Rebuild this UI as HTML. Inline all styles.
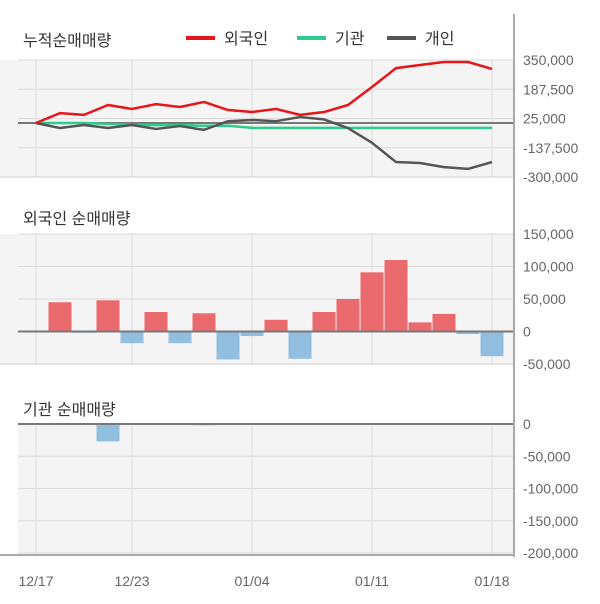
<!DOCTYPE html>
<html><head><meta charset="utf-8"><style>
html,body{margin:0;padding:0;background:#fff;width:600px;height:604px;overflow:hidden}
text{font-family:"Liberation Sans","Noto Sans CJK KR",sans-serif}
</style></head><body>
<svg id="chart" width="600" height="604" xmlns="http://www.w3.org/2000/svg"></svg>
<script>
const dates = ['12/17','12/18','12/19','12/20','12/21','12/23','12/24','12/26','12/27','12/28','01/04','01/07','01/08','01/09','01/10','01/11','01/14','01/15','01/16','01/18'];
const xLabels = ['12/17','12/23','01/04','01/11','01/18'];
const xLabelIdx = [0,4,9,14,19];
const cumForeign = [0,55000,45000,100000,78000,105000,89000,117000,72000,61000,78000,45000,61000,100000,200000,305000,322000,339000,339000,300000];
const cumInst = [0,0,0,-5000,-10000,-12000,-12000,-15000,-15000,-27000,-27000,-27000,-27000,-27000,-27000,-27000,-27000,-27000,-27000,-27000];
const cumIndiv = [0,-28000,-11000,-28000,-11000,-33000,-17000,-38000,10000,17000,10000,33000,20000,-28000,-110000,-217000,-222000,-245000,-255000,-217000];
const foreignNet = [0,45000,-2000,48000,-18000,30000,-18000,28000,-43000,-7000,18000,-42000,30000,50000,91000,110000,14000,27000,-4000,-38000];
const instNet = [0,0,0,-27000,0,0,0,-2000,0,0,0,0,0,0,0,0,0,0,0,0];
const ticks1 = [350000,187500,25000,-137500,-300000];
const ticks2 = [150000,100000,50000,0,-50000];
const ticks3 = [0,-50000,-100000,-150000,-200000];

const svg = document.getElementById('chart');
const NS = 'http://www.w3.org/2000/svg';
function mk(tag, attrs, parent){const e=document.createElementNS(NS,tag);for(const k in attrs)e.setAttribute(k,attrs[k]);(parent||svg).appendChild(e);return e;}
const X = i => 36 + i*24;
const fmt = v => v.toLocaleString('en-US');
const y1 = v => 60 + (350000 - v) * 117 / 650000;
const y2 = v => 234 + (150000 - v) * 130 / 200000;
const y3 = v => 424 + (0 - v) * 129 / 200000;

function panel(name, top, bottom, left, ticks, yf){
  const g = mk('g',{});
  
  
  mk('rect',{x:left,y:top,width:513-left,height:bottom-top,fill:'#f4f4f4'},g);
  ticks.forEach(t=>{
    const l = mk('line',{x1:18,x2:513,y1:yf(t),y2:yf(t),stroke:'#dcdcdc','stroke-width':1},g);
    
    
    const tx = mk('text',{x:523,y:yf(t)+5,'font-size':14,fill:'#666'},g);
    tx.textContent = fmt(t);
    
    
  });
  xLabelIdx.forEach(i=>{
    const l = mk('line',{x1:X(i),x2:X(i),y1:top,y2:bottom,stroke:'#dcdcdc','stroke-width':1},g);
    
    
  });
  return g;
}
// panel 1
panel('cumulative-panel',60,177,0,ticks1,y1);
mk('line',{x1:0,x2:513,y1:177,y2:177,stroke:'#cfcfcf'});
mk('line',{x1:18,x2:513,y1:y1(0),y2:y1(0),stroke:'#777','stroke-width':2});
function line(data,color,name){
  const p = mk('polyline',{points:data.map((v,i)=>X(i)+','+y1(v)).join(' '),fill:'none',stroke:color,'stroke-width':2.5,'stroke-linejoin':'round'});
  
  
}
line(cumInst,'#2ecb8e','institution-line');
line(cumIndiv,'#555','individual-line');
line(cumForeign,'#e8161b','foreign-line');
// panel 2
panel('foreign-panel',234,364,0,ticks2,y2);
mk('line',{x1:0,x2:513,y1:364,y2:364,stroke:'#cfcfcf'});
foreignNet.forEach((v,i)=>{
  if(!v) return;
  const r = mk('rect',{x:X(i)-11.5,y:Math.min(y2(v),y2(0)),width:23,height:Math.abs(y2(v)-y2(0)),fill:v>0?'#eb6a6d':'#92bee0'});
  
  
});
mk('line',{x1:18,x2:513,y1:y2(0),y2:y2(0),stroke:'#777','stroke-width':2});
// panel 3
panel('institution-panel',424,555,18,ticks3,y3);
instNet.forEach((v,i)=>{
  if(!v) return;
  const r = mk('rect',{x:X(i)-11.5,y:Math.min(y3(v),y3(0)),width:23,height:Math.abs(y3(v)-y3(0)),fill:v>0?'#eb6a6d':'#92bee0'});
  
  
});
mk('line',{x1:18,x2:513,y1:y3(0),y2:y3(0),stroke:'#777','stroke-width':2});
mk('line',{x1:0,x2:515,y1:555,y2:555,stroke:'#aaa','stroke-width':2});
// right axis
const ax = mk('line',{x1:514,x2:514,y1:14,y2:557,stroke:'#aaa','stroke-width':2});


// x labels
xLabels.forEach((s,k)=>{
  const t = mk('text',{x:X(xLabelIdx[k]),y:586,'font-size':14,fill:'#666','text-anchor':'middle'});
  t.textContent = s;
  
  
});
// titles
[['누적순매매량',46,'cumulative-title'],['외국인 순매매량',224,'foreign-title'],['기관 순매매량',415,'institution-title']].forEach(a=>{
  const t = mk('text',{x:23,y:a[1],'font-size':16,fill:'#333'});
  t.textContent = a[0];
  
  
});
// legend
[['외국인','#e8161b',186],['기관','#2ecb8e',297],['개인','#555',387]].forEach(a=>{
  const g = mk('g',{});
  
  
  mk('line',{x1:a[2],x2:a[2]+29,y1:38,y2:38,stroke:a[1],'stroke-width':4},g);
  const t = mk('text',{x:a[2]+38,y:44,'font-size':16,fill:'#333'},g);
  t.textContent = a[0];
});
</script>
</body></html>
